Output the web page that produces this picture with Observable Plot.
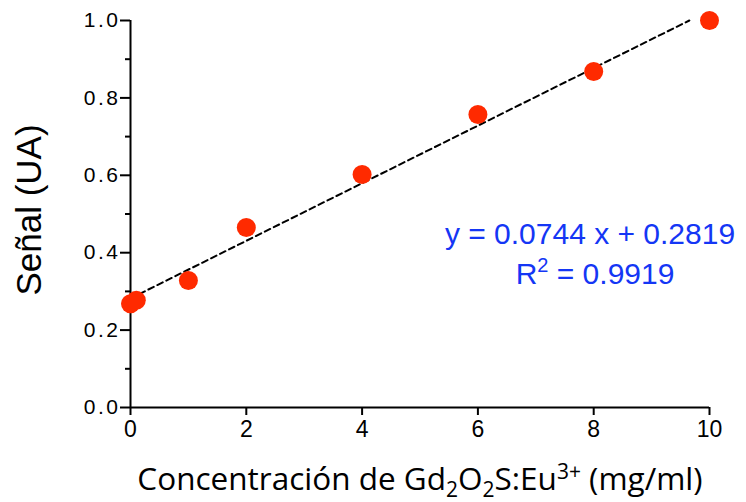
<!DOCTYPE html>
<html>
<head>
<meta charset="utf-8">
<script src="https://cdn.jsdelivr.net/npm/d3@7"></script>
<script src="https://cdn.jsdelivr.net/npm/@observablehq/plot@0.6"></script>
<style>
  body { margin: 0; background: #fff; }
</style>
</head>
<body>
<div id="chart"></div>
<script>
// Calibration: signal vs. Gd2O2S:Eu3+ concentration
const concentration = [0, 0.1, 1, 2, 4, 6, 8, 10];          // mg/ml
const signal = [0.268, 0.277, 0.328, 0.465, 0.602, 0.757, 0.868, 1.0]; // UA

// Linear fit reported on the chart
const slope = 0.0744;
const intercept = 0.2819;
const rSquared = 0.9919;

const xTicks = [0, 2, 4, 6, 8, 10];
const yTicks = [0, 0.2, 0.4, 0.6, 0.8, 1.0];
const yMinorTicks = [0.1, 0.3, 0.5, 0.7, 0.9];

const points = concentration.map((c, i) => ({c, s: signal[i]}));

// Fit line runs from x = 0 until it reaches the top of the y domain
const xEnd = (1 - intercept) / slope;
const fitLine = [
  {c: 0, s: intercept},
  {c: xEnd, s: slope * xEnd + intercept}
];

const sans = "'Liberation Sans', Arial, Helvetica, sans-serif";

const chart = Plot.plot({
  width: 746,
  height: 502,
  marginLeft: 130,
  marginRight: 37,
  marginTop: 20,
  marginBottom: 95,
  x: {domain: [0, 10]},
  y: {domain: [0, 1]},
  style: {fontFamily: sans, fontSize: "22px", color: "#000", background: "#fff", overflow: "visible"},
  marks: [
    Plot.axisY(yMinorTicks, {tickSize: 5, strokeWidth: 2, tickFormat: () => "", label: null}),
    Plot.axisY(yTicks, {tickSize: 10, strokeWidth: 2, tickPadding: 0, tickFormat: d3.format(".1f"), fontSize: 21, label: null}),
    Plot.axisX(xTicks, {tickSize: 8, strokeWidth: 2, tickPadding: 5, fontSize: 23, label: null}),
    Plot.ruleX([0], {y1: 0, y2: 1, strokeWidth: 2}),
    Plot.ruleY([0], {strokeWidth: 2}),
    Plot.line(fitLine, {x: "c", y: "s", stroke: "#000", strokeWidth: 2, strokeDasharray: "6,4"}),
    Plot.dot(points, {x: "c", y: "s", r: 9.5, fill: "#ff2a00", stroke: "none"})
  ]
});

const svg = d3.select(chart);

// Slightly wider tracking on the y tick labels
svg.selectAll("g[aria-label='y-axis tick label'] text").attr("letter-spacing", 2.5);

// Y axis title
svg.append("text")
  .attr("transform", "translate(41,210) rotate(-90)")
  .attr("text-anchor", "middle")
  .attr("font-family", sans)
  .attr("font-size", 35)
  .attr("fill", "#000")
  .text("Señal (UA)");

// X axis title with sub/superscripts
const titleRuns = [
  ["Concentración de Gd", ""],
  ["2", "sub"],
  ["O", ""],
  ["2", "sub"],
  ["S:Eu", ""],
  ["3+", "sup"],
  [" (mg/ml)", ""]
];
const shift = {sub: 7, sup: -11, "": 0};
const xt = svg.append("text")
  .attr("x", 420)
  .attr("y", 490)
  .attr("text-anchor", "middle")
  .attr("font-family", "'Open Sans', 'Noto Sans', sans-serif")
  .attr("font-size", 31.5)
  .attr("fill", "#000");
titleRuns.forEach(([t, kind], i) => {
  const prev = i > 0 ? titleRuns[i - 1][1] : "";
  const ts = xt.append("tspan").text(t).attr("dy", shift[kind] - shift[prev]);
  if (kind) ts.attr("font-size", 21);
});

// Regression equation
const blue = "#1436f5";
svg.append("text")
  .attr("x", 590)
  .attr("y", 244)
  .attr("text-anchor", "middle")
  .attr("font-family", sans)
  .attr("font-size", 30)
  .attr("fill", blue)
  .text(`y = ${slope.toFixed(4)} x + ${intercept.toFixed(4)}`);
const r2 = svg.append("text")
  .attr("x", 595)
  .attr("y", 284)
  .attr("text-anchor", "middle")
  .attr("font-family", sans)
  .attr("font-size", 30)
  .attr("fill", blue);
r2.append("tspan").text("R");
r2.append("tspan").attr("dy", -12).attr("font-size", 20).text("2");
r2.append("tspan").attr("dy", 12).text(` = ${rSquared.toFixed(4)}`);

document.getElementById("chart").appendChild(chart);
</script>
</body>
</html>
